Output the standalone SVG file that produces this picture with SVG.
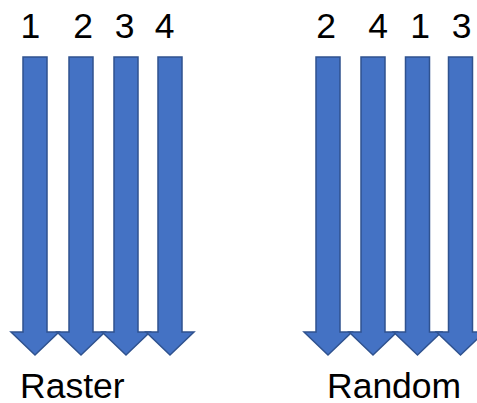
<svg xmlns="http://www.w3.org/2000/svg" width="477" height="403" viewBox="0 0 477 403">
<defs>
<style>
.lbl{font-family:"Liberation Sans",Arial,sans-serif;font-size:35.5px;fill:#000}
.arr{fill:#4472C4;stroke:#2F528F;stroke-width:1.5;stroke-linejoin:miter}
</style>
<path id="a" d="M-12,57 H12 V332 H24 L0,355 L-24,332 H-12 Z"/>
</defs>
<rect width="477" height="403" fill="#fff"/>
<g id="connectors">
<g id="raster-arrows">
<use href="#a" class="arr" x="35"/>
<use href="#a" class="arr" x="81"/>
<use href="#a" class="arr" x="126"/>
<use href="#a" class="arr" x="170"/>
</g>
<g id="random-arrows">
<use href="#a" class="arr" x="328"/>
<use href="#a" class="arr" x="373"/>
<use href="#a" class="arr" x="417.5"/>
<use href="#a" class="arr" x="460.5"/>
</g>
</g>
<g id="raster-labels" class="lbl" text-anchor="middle">
<text x="30.3" y="38">1</text>
<text x="83" y="38">2</text>
<text x="124.5" y="38">3</text>
<text x="164.5" y="38">4</text>
</g>
<g id="random-labels" class="lbl" text-anchor="middle">
<text x="326" y="38">2</text>
<text x="378" y="38">4</text>
<text x="420" y="38">1</text>
<text x="461.5" y="38">3</text>
</g>
<g id="raster"><text class="lbl" x="20" y="397.5">Raster</text></g>
<g id="random"><text class="lbl" x="327" y="397.5">Random</text></g>
</svg>
